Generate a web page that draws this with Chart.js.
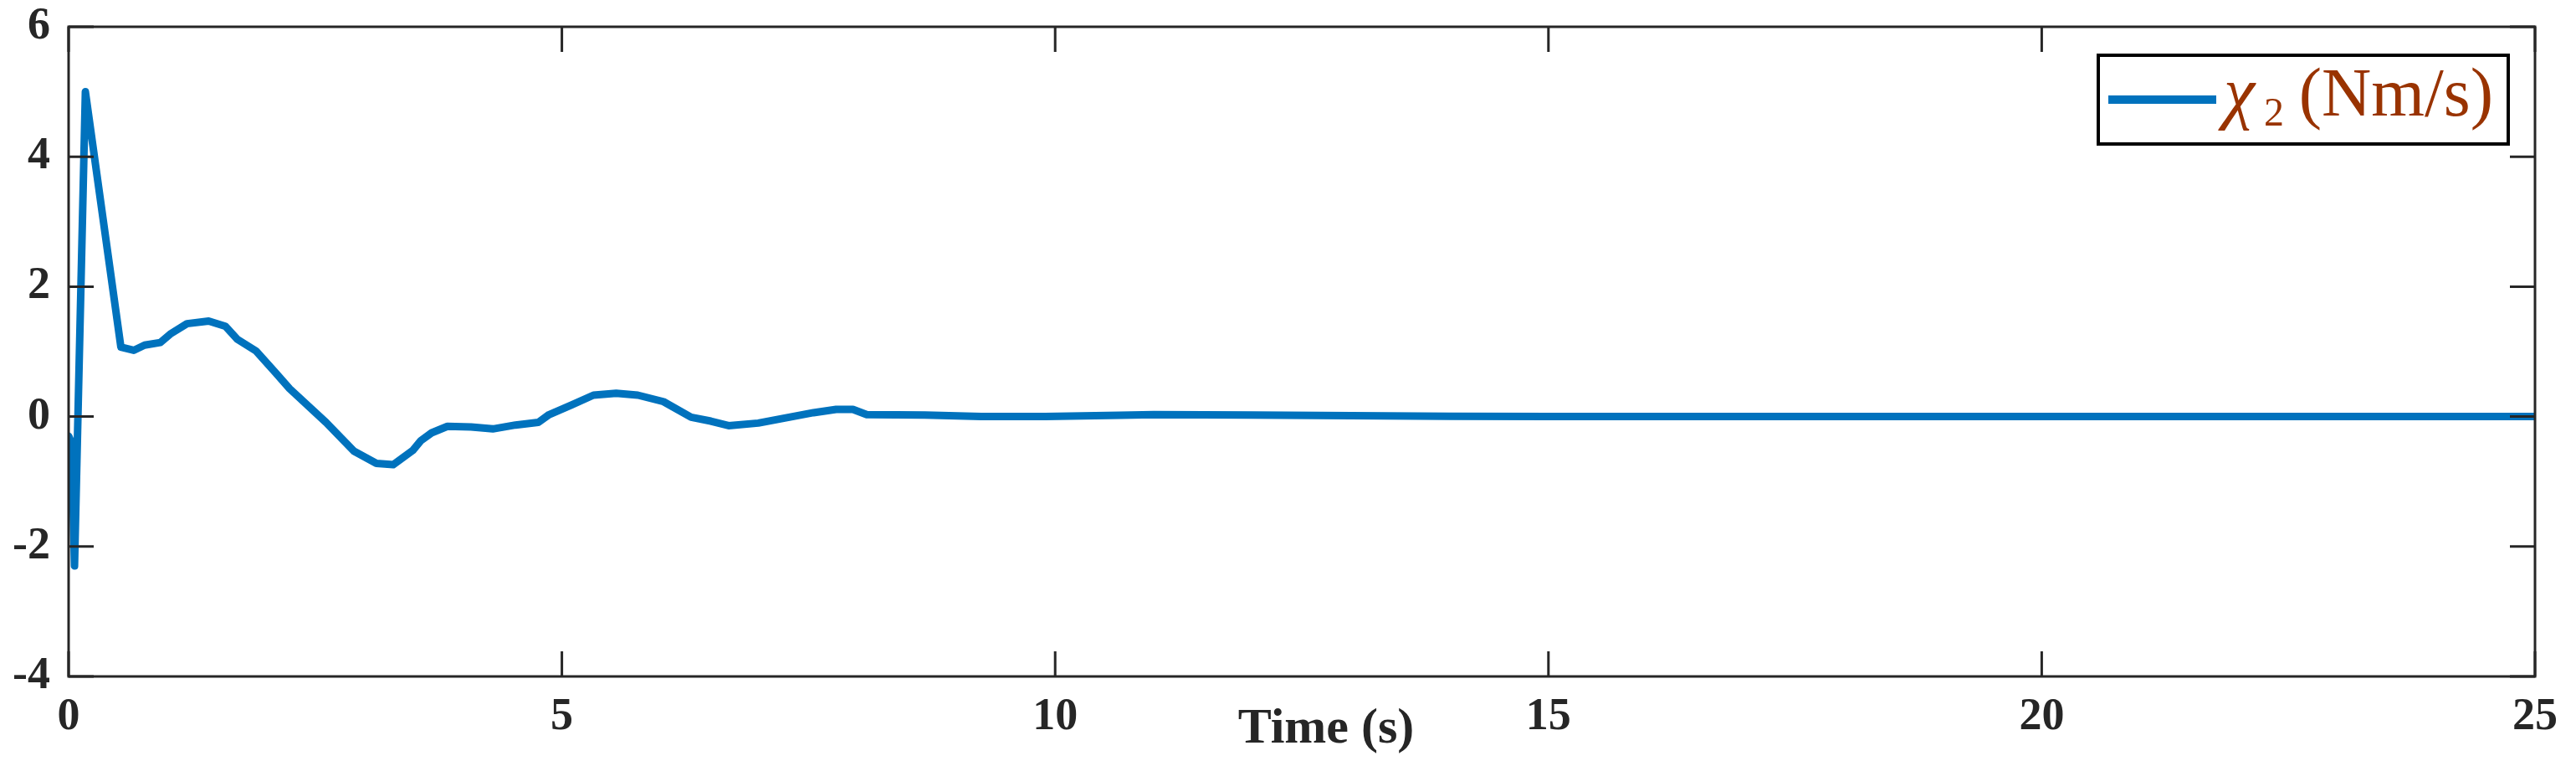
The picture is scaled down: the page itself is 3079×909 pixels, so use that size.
<!DOCTYPE html>
<html>
<head>
<meta charset="utf-8">
<script src="https://cdn.jsdelivr.net/npm/chart.js@4/dist/chart.umd.min.js"></script>
<style>
    html, body { margin: 0; padding: 0; background: #fff; }
    canvas { display: block; }
</style>
</head>
<body>
<canvas id="chart" width="3079" height="909"></canvas>
<script>
const timeS = [0, 0.03, 0.06, 0.17, 0.53, 0.66, 0.77, 0.93, 1.03, 1.2, 1.42, 1.59, 1.71, 1.9, 2.1, 2.24,
    2.61, 2.89, 3.12, 3.29, 3.49, 3.57, 3.68, 3.84, 4.08, 4.3, 4.53, 4.76, 4.87, 5.1, 5.32, 5.55, 5.77,
    6.03, 6.31, 6.51, 6.69, 6.99, 7.27, 7.55, 7.78, 7.95, 8.09, 8.68, 9.25, 9.9, 10.66, 11, 12, 13, 14,
    15, 20, 25];
const chi2 = [-0.3, -0.4, -2.3, 5.0, 1.07, 1.02, 1.1, 1.14, 1.27, 1.43, 1.47, 1.39, 1.19, 1.01, 0.67, 0.43,
    -0.09, -0.53, -0.72, -0.74, -0.52, -0.37, -0.25, -0.15, -0.16, -0.19, -0.13, -0.09, 0.03, 0.18, 0.33, 0.36, 0.33,
    0.23, -0.01, -0.07, -0.14, -0.1, -0.02, 0.06, 0.11, 0.11, 0.03, 0.025, 0, 0, 0.02, 0.03, 0.025, 0.015, 0.005,
    0, 0, 0];

const xTicks = [0, 5, 10, 15, 20, 25];
const yTicks = [-4, -2, 0, 2, 4, 6];

const xTitle      = 'Time (s)';
const legendLabel = 'χ₂(Nm/s)';

const AXIS_COLOR = '#262626';
const LINE_COLOR = '#0072BD';
const TEXT_COLOR = '#993300';
const SERIF      = '"Liberation Serif", "Times New Roman", serif';

// MATLAB-like box with inward ticks, x label and legend
const framePlugin = {
    id: 'frame',
    afterDraw(chart) {
        const { ctx, chartArea: a, scales } = chart;
        const tick = 30;
        ctx.save();
        ctx.strokeStyle = AXIS_COLOR;
        ctx.lineWidth = 3;
        ctx.strokeRect(a.left, a.top, a.right - a.left, a.bottom - a.top);

        ctx.beginPath();
        xTicks.forEach(v => {
            const px = scales.x.getPixelForValue(v);
            ctx.moveTo(px, a.bottom); ctx.lineTo(px, a.bottom - tick);
            ctx.moveTo(px, a.top);    ctx.lineTo(px, a.top + tick);
        });
        yTicks.forEach(v => {
            const py = scales.y.getPixelForValue(v);
            ctx.moveTo(a.left, py);  ctx.lineTo(a.left + tick, py);
            ctx.moveTo(a.right, py); ctx.lineTo(a.right - tick, py);
        });
        ctx.stroke();

        // x axis title, sits on the tick label row
        ctx.fillStyle = AXIS_COLOR;
        ctx.font = 'bold 60px ' + SERIF;
        ctx.textAlign = 'center';
        ctx.textBaseline = 'alphabetic';
        ctx.fillText(xTitle, 1585, 887);

        // legend
        const bx = 2508, by = 66, bw = 490, bh = 106;
        ctx.fillStyle = '#fff';
        ctx.fillRect(bx, by, bw, bh);
        ctx.strokeStyle = '#000';
        ctx.lineWidth = 4;
        ctx.strokeRect(bx, by, bw, bh);

        ctx.strokeStyle = LINE_COLOR;
        ctx.lineWidth = 10;
        ctx.beginPath();
        ctx.moveTo(2520, 119);
        ctx.lineTo(2649, 119);
        ctx.stroke();

        ctx.fillStyle = TEXT_COLOR;
        ctx.textAlign = 'left';
        ctx.font = 'italic 84px ' + SERIF;
        ctx.fillText('χ', 2658, 138);
        ctx.font = '48px ' + SERIF;
        ctx.fillText('2', 2706, 150);
        ctx.font = '82px ' + SERIF;
        ctx.textAlign = 'right';
        ctx.fillText('(Nm/s)', 2980, 138);
        ctx.restore();
    },
};

new Chart(document.getElementById('chart'), {
    type: 'line',
    data: {
        datasets: [{
            label:           legendLabel,
            data:            timeS.map((t, i) => ({ x: t, y: chi2[i] })),
            borderColor:     LINE_COLOR,
            borderWidth:     9,
            borderJoinStyle: 'round',
            borderCapStyle:  'round',
            pointRadius:     0,
            tension:         0,
            fill:            false,
        }],
    },
    options: {
        responsive: false,
        animation:  false,
        layout: { padding: { top: 32, right: 47, left: 0, bottom: 0 } },
        plugins: { legend: { display: false }, tooltip: { enabled: false } },
        scales: {
            x: {
                type: 'linear',
                min: 0,
                max: 25,
                grid:   { display: false, drawTicks: false },
                border: { display: false },
                afterBuildTicks: s => { s.ticks = xTicks.map(v => ({ value: v })); },
                afterFit: s => { s.height = 101; },
                ticks: {
                    autoSkip: false,
                    maxRotation: 0,
                    padding: 22,
                    color: AXIS_COLOR,
                    font: { family: SERIF, weight: 'bold', size: 54, lineHeight: 1 },
                },
            },
            y: {
                min: -4,
                max: 6,
                grid:   { display: false, drawTicks: false },
                border: { display: false },
                afterBuildTicks: s => { s.ticks = yTicks.map(v => ({ value: v })); },
                afterFit: s => {
                    s.width = 82;
                    s.paddingTop = 0;       // don't let the top label push the plot down
                    s.paddingBottom = 0;
                },
                ticks: {
                    autoSkip: false,
                    padding: 22,
                    color: AXIS_COLOR,
                    font: { family: SERIF, weight: 'bold', size: 54, lineHeight: 1 },
                },
            },
        },
    },
    plugins: [framePlugin],
});
</script>
</body>
</html>
